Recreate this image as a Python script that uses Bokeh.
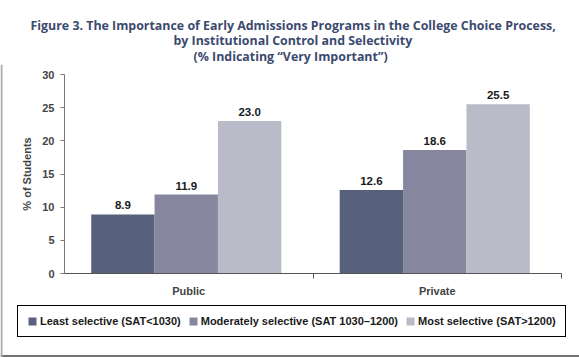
from bokeh.plotting import figure
from bokeh.models import (Range1d, FixedTicker, ColumnDataSource, LabelSet, Legend,
                          LegendItem, Title, Span)
from bokeh.core.properties import value
from bokeh.transform import dodge
from bokeh.embed import file_html
from bokeh.resources import INLINE

# ---- data ----
categories = ["Public", "Private"]
series_names = ["Least selective (SAT<1030)",
                "Moderately selective (SAT 1030\u20131200)",
                "Most selective (SAT>1200)"]
least = [8.9, 12.6]
moderate = [11.9, 18.6]
most = [23.0, 25.5]
y_ticks = [0, 5, 10, 15, 20, 25, 30]
title_lines = ["Figure 3. The Importance of Early Admissions Programs in the College Choice Process,",
               "by Institutional Control and Selectivity",
               "(% Indicating \u201cVery Important\u201d)"]
colors = ["#57617c", "#86879e", "#b9bbc9"]

# ---- layout geometry (pixels) ----
W, H = 579, 357
FRAME_TOP = 64                  # top of plotting area (below the title)
AX_L, AX_R = 64, 561            # pixel x of the axis ends
AX_Y0, AX_Y30 = 273, 74         # pixel y of value 0 and value 30
ncat = len(categories)
ymax = y_ticks[-1]
ppu_x = (AX_R - AX_L) / ncat
ppu_y = (AX_Y0 - AX_Y30) / ymax
x_range = Range1d(-AX_L / ppu_x, ncat + (W - AX_R) / ppu_x)
y_range = Range1d(-(H - AX_Y0) / ppu_y, (AX_Y0 - FRAME_TOP) / ppu_y)

xc = [i + 0.5 for i in range(ncat)]

p = figure(width=W, height=H, output_backend="svg", toolbar_location=None,
           x_range=x_range, y_range=y_range,
           min_border_left=0, min_border_right=0, min_border_top=FRAME_TOP,
           min_border_bottom=0, title=None)
p.outline_line_color = None
p.xgrid.grid_line_color = None
p.ygrid.grid_line_color = None
p.background_fill_color = "white"
p.border_fill_color = "white"

# title lines: nearest to the frame first
title_offsets = [30, 173, 193]
title_standoffs = [-2, -6, 0]
for txt, off, so in reversed(list(zip(title_lines, title_offsets, title_standoffs))):
    p.add_layout(Title(text=txt, align="left", offset=off, standoff=so,
                       text_font="Open Sans", text_font_style="bold",
                       text_font_size="12.4px", text_color="#3b4a6e"), "above")

src = ColumnDataSource(dict(x=xc, cat=categories, least=least, moderate=moderate, most=most,
                            l_least=[f"{v:.1f}" for v in least],
                            l_moderate=[f"{v:.1f}" for v in moderate],
                            l_most=[f"{v:.1f}" for v in most]))
bw = 0.255
keys = ["least", "moderate", "most"]
items = []
for off, key, col, name in zip([-bw, 0.0, bw], keys, colors, series_names):
    r = p.vbar(x=dodge("x", off - 0.01), top=key, width=bw, source=src,
               fill_color=col, line_color=None)
    items.append(LegendItem(label=name, renderers=[r]))
    lab = LabelSet(x=dodge("x", off - 0.01), y=key, text="l_" + key, source=src,
                   text_align="center", text_baseline="bottom", y_offset=5,
                   text_font=value("Liberation Sans"), text_font_style="bold",
                   text_font_size="11.5px", text_color="#1a1a1a")
    p.add_layout(lab)

# axes, pinned at the data origin
p.yaxis.fixed_location = 0
p.yaxis.bounds = (0, ymax)
p.yaxis.ticker = FixedTicker(ticks=y_ticks)
p.yaxis.axis_label = "% of Students"
p.yaxis.axis_label_text_font = "Liberation Sans"
p.yaxis.axis_label_text_font_style = "bold"
p.yaxis.axis_label_text_font_size = "11px"
p.yaxis.axis_label_standoff = 6
p.yaxis.major_label_text_font = "Liberation Sans"
p.yaxis.major_label_text_font_style = "bold"
p.yaxis.major_label_text_font_size = "11px"
p.yaxis.major_label_standoff = 6
p.yaxis.major_tick_in = 0
p.yaxis.major_tick_out = 4
p.yaxis.minor_tick_line_color = None
p.yaxis.axis_line_color = "#777777"
p.yaxis.major_tick_line_color = "#777777"

p.xaxis.fixed_location = 0
p.xaxis.bounds = (0, ncat)
p.xaxis.ticker = FixedTicker(ticks=xc, minor_ticks=[float(i) for i in range(1, ncat + 1)])
p.xaxis.major_label_overrides = {x: c for x, c in zip(xc, categories)}
p.xaxis.major_tick_line_color = None
p.xaxis.major_tick_out = 0
p.xaxis.major_tick_in = 0
p.xaxis.minor_tick_in = 0
p.xaxis.minor_tick_out = 5
p.xaxis.minor_tick_line_color = "#555555"
p.xaxis.axis_line_color = "#555555"
p.xaxis.major_label_standoff = 6
p.xaxis.major_label_text_font = "Liberation Sans"
p.xaxis.major_label_text_font_style = "bold"
p.xaxis.major_label_text_font_size = "11px"

legend = Legend(items=items, orientation="horizontal", location=(17, 20),
                label_text_font="Liberation Sans", label_text_font_style="bold",
                label_text_font_size="11px", label_text_color="#1a1a1a",
                glyph_width=10, glyph_height=10, label_standoff=3, spacing=7,
                padding=9, margin=0, border_line_color="black", border_line_width=1,
                border_line_alpha=1, background_fill_alpha=1)
p.add_layout(legend, "center")

# page frame lines (left edge, bottom edge)
p.add_layout(Span(location=y_range.start + 1.5 / ppu_y, dimension="width",
                  line_color="#444444", line_width=1.5))
p.add_layout(Span(location=x_range.start + 1 / ppu_x, dimension="height",
                  line_color="#aaaaaa", line_width=2))

open("out.html", "w").write(file_html(p, INLINE))
